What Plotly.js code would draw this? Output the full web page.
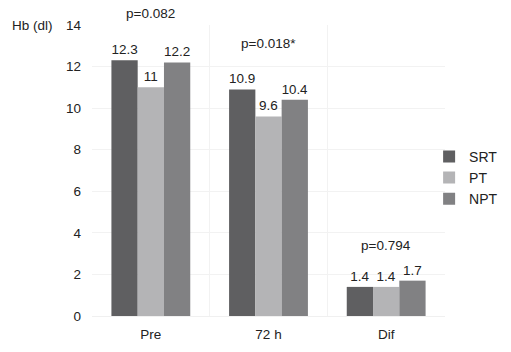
<!DOCTYPE html>
<html><head><meta charset="utf-8">
<script src="https://cdn.plot.ly/plotly-3.0.1.min.js"></script>
<style>html,body{margin:0;padding:0;background:#fff}#c{width:511px;height:352px}</style>
</head><body><div id="c"></div>
<script>
const categories = ["Pre", "72 h", "Dif"];
const seriesNames = ["SRT", "PT", "NPT"];
const srt = [12.3, 10.9, 1.4];
const pt = [11, 9.6, 1.4];
const npt = [12.2, 10.4, 1.7];
const srtLabels = ["12.3", "10.9", "1.4"];
const ptLabels = ["11", "9.6", "1.4"];
const nptLabels = ["12.2", "10.4", "1.7"];
const pValues = ["p=0.082", "p=0.018*", "p=0.794"];
const pValueY = [14, 12.65, 2.92];
const pValueShift = [2, 0, 0];
const colors = ["#5f5f61", "#b4b4b6", "#818183"];

const fam = "Liberation Sans, Arial, sans-serif";
const fs = 13.5;
const font = {family: fam, size: fs, color: "#222"};
const vals = [srt, pt, npt];
const labs = [srtLabels, ptLabels, nptLabels];
const data = seriesNames.map((n, i) => ({
  type: "bar", name: n, x: categories, y: vals[i],
  text: labs[i], textposition: "outside", cliponaxis: false,
  textfont: {family: fam, size: fs, color: "#222"},
  marker: {color: colors[i], line: {width: 0}}
}));
const annotations = categories.map((c, i) => ({
  x: c, y: pValueY[i], xref: "x", yref: "y", text: pValues[i], yshift: pValueShift[i],
  showarrow: false, yanchor: "bottom", font: {family: fam, size: fs, color: "#222"}
}));
annotations.push({x: -0.105, y: 1.0, xref: "paper", yref: "paper", xanchor: "right", yanchor: "middle",
  text: "Hb (dl)", showarrow: false, font: {family: fam, size: fs, color: "#222"}});

const layout = {
  width: 511, height: 352,
  margin: {l: 92, r: 66, t: 25, b: 36, autoexpand: false},
  paper_bgcolor: "#fff", plot_bgcolor: "#fff",
  font: font,
  barmode: "group", bargap: 0.33, bargroupgap: 0,
  showlegend: true,
  legend: {x: 0.955, y: 0.475, xanchor: "left", yanchor: "middle", font: {family: fam, size: 14, color: "#222"},
    itemwidth: 30, tracegroupgap: 0, bgcolor: "rgba(0,0,0,0)"},
  xaxis: {type: "category", tickson: "boundaries", showgrid: true, gridcolor: "#f2f2f2", gridwidth: 1,
    ticks: "", showline: false, zeroline: false, ticklabelstandoff: 8,
    tickfont: {family: fam, size: fs, color: "#222"}},
  yaxis: {range: [0, 14], tickvals: [0, 2, 4, 6, 8, 10, 12, 14], showgrid: true, gridcolor: "#f2f2f2",
    zeroline: true, zerolinecolor: "#f0f0f0", showline: false, ticks: "", ticklabelstandoff: 10,
    tickfont: {family: fam, size: fs, color: "#222"}, automargin: false},
  annotations: annotations
};
Plotly.newPlot("c", data, layout, {displayModeBar: false, staticPlot: true});
</script></body></html>
